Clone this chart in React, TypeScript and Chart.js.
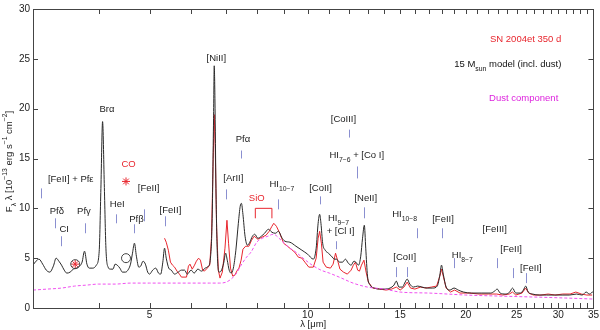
import React, { useEffect, useRef } from "react";
import { Chart, registerables } from "chart.js";

Chart.register(...registerables);

// ---- data (wavelength in micron, flux in 1e-13 erg s^-1 cm^-2) ----
const modelSpectrum: [number, number][] = [
  [3.00,4.3],[3.04,4.7],[3.08,4.9],[3.13,4.4],[3.18,3.8],[3.23,3.6],[3.28,4.2],[3.32,5.0],[3.36,4.7],[3.40,4.3],
  [3.44,3.8],[3.48,3.5],[3.53,3.6],[3.58,3.9],[3.63,4.0],[3.68,4.2],[3.72,4.6],[3.76,5.7],[3.80,4.4],[3.84,4.0],
  [3.90,4.0],[3.96,4.3],[4.01,5.7],[4.04,12.0],[4.07,18.7],[4.10,12.5],[4.13,6.0],[4.17,4.1],[4.21,3.9],[4.26,3.9],
  [4.30,4.4],[4.34,4.3],[4.39,4.0],[4.44,3.6],[4.50,3.6],[4.56,3.9],[4.60,4.4],[4.64,5.5],[4.68,6.5],[4.72,5.2],
  [4.77,4.1],[4.81,4.2],[4.86,4.7],[4.91,4.4],[4.96,3.6],[5.00,3.4],[5.07,3.8],[5.14,4.0],[5.20,3.5],[5.25,3.4],
  [5.30,4.6],[5.34,6.0],[5.38,5.0],[5.44,4.0],[5.50,3.8],[5.58,3.4],[5.67,3.6],[5.75,3.8],[5.83,3.8],[5.90,3.4],
  [6.00,3.8],[6.08,3.5],[6.18,3.9],[6.28,3.7],[6.38,4.0],[6.47,4.2],[6.53,5.0],[6.58,9.0],[6.62,19.0],[6.64,24.3],
  [6.66,21.0],[6.69,12.0],[6.73,5.5],[6.78,3.6],[6.84,3.7],[6.92,4.5],[6.98,5.5],[7.03,4.8],[7.09,3.8],[7.15,3.5],
  [7.22,4.0],[7.30,5.8],[7.38,8.5],[7.44,10.2],[7.48,10.5],[7.53,9.4],[7.60,7.2],[7.68,6.3],[7.76,6.6],[7.85,7.2],
  [7.93,7.4],[8.04,7.0],[8.16,7.2],[8.28,7.5],[8.42,7.9],[8.55,7.6],[8.68,7.5],[8.80,7.7],[8.92,7.1],[9.05,6.7],
  [9.25,6.6],[9.50,6.2],[9.75,5.8],[10.0,5.4],[10.25,4.9],[10.38,6.0],[10.47,8.5],[10.54,9.4],[10.60,8.5],[10.68,6.5],
  [10.80,5.8],[10.95,5.5],[11.10,5.2],[11.25,4.9],[11.35,4.9],[11.50,4.6],[11.65,4.6],[11.80,4.9],[11.95,4.5],[12.10,4.3],
  [12.25,4.7],[12.35,4.6],[12.50,4.3],[12.62,5.2],[12.72,7.0],[12.82,8.3],[12.90,6.0],[13.00,3.2],[13.15,2.3],[13.40,2.0],
  [13.70,1.9],[14.00,1.9],[14.35,2.0],[14.60,2.3],[14.75,2.7],[14.92,2.1],[15.15,2.1],[15.30,2.5],[15.47,2.9],[15.65,2.4],
  [15.90,2.1],[16.20,2.2],[16.50,2.1],[16.90,2.0],[17.30,2.0],[17.65,2.2],[17.85,3.3],[17.98,4.3],[18.12,3.4],[18.35,2.1],
  [18.65,1.8],[19.00,2.0],[19.35,1.8],[19.80,1.6],[20.50,1.5],[21.40,1.5],[22.30,1.5],[22.70,1.7],[22.95,1.9],[23.25,1.5],
  [23.80,1.4],[24.25,1.6],[24.55,2.0],[24.90,1.5],[25.40,1.5],[25.75,1.8],[26.00,2.2],[26.30,1.6],[26.80,1.4],[27.60,1.3],
  [28.50,1.3],[29.50,1.3],[30.50,1.3],[31.50,1.3],[32.50,1.4],[33.30,1.3],[33.90,1.6],[34.40,1.4],[35.0,1.7],
];

const observedSpectrum: [number, number][] = [
  [5.34,7.0],[5.38,6.6],[5.43,5.8],[5.48,4.6],[5.53,4.3],[5.58,4.1],[5.64,3.7],[5.70,3.4],[5.75,3.1],[5.88,3.1],
  [5.93,4.2],[5.97,4.4],[6.03,3.9],[6.09,4.3],[6.14,4.7],[6.20,5.0],[6.25,4.8],[6.31,3.8],[6.36,3.7],[6.44,4.0],
  [6.51,4.3],[6.56,7.0],[6.61,15.0],[6.64,19.4],[6.67,16.0],[6.71,8.0],[6.76,3.8],[6.81,3.0],[6.88,3.6],[6.96,6.0],
  [7.02,8.8],[7.07,6.5],[7.13,4.0],[7.20,3.2],[7.27,3.3],[7.33,3.7],[7.40,4.0],[7.47,4.8],[7.53,5.9],[7.62,6.2],
  [7.73,6.2],[7.82,6.8],[7.91,7.2],[8.04,6.9],[8.18,7.1],[8.33,7.3],[8.45,7.7],[8.55,8.2],[8.62,8.5],[8.72,8.2],
  [8.85,7.5],[9.00,6.5],[9.15,6.2],[9.30,5.9],[9.45,5.6],[9.60,5.1],[9.75,5.0],[9.88,4.6],[10.05,4.1],[10.25,4.1],
  [10.38,5.0],[10.47,7.0],[10.54,7.7],[10.62,6.5],[10.70,4.6],[10.85,4.1],[11.05,4.0],[11.18,4.4],[11.30,5.5],[11.40,4.8],
  [11.52,3.9],[11.70,3.6],[11.90,3.4],[12.10,3.8],[12.22,4.3],[12.33,4.6],[12.45,3.8],[12.55,3.7],[12.66,4.3],[12.80,4.8],
  [12.92,3.6],[13.05,2.6],[13.30,2.0],[13.70,1.9],[14.10,1.8],[14.45,1.9],[14.75,2.1],[15.00,1.8],[15.25,2.1],[15.47,2.6],
  [15.70,2.0],[16.00,1.9],[16.40,2.1],[16.80,2.0],[17.20,2.1],[17.60,2.2],[17.85,3.2],[17.98,3.9],[18.12,3.2],[18.35,2.0],
  [18.70,1.6],[19.05,1.8],[19.50,1.5],[20.30,1.5],[21.20,1.4],[22.10,1.4],[22.90,1.4],[23.50,1.3],[24.20,1.4],[24.55,1.6],
  [24.90,1.3],[25.60,1.5],[26.00,2.0],[26.35,1.5],[26.90,1.3],[27.80,1.3],[28.70,1.4],[29.60,1.3],[30.60,1.4],[31.60,1.4],
  [32.40,1.6],[33.20,1.4],[34.00,1.3],[34.80,1.3],
];

const dustSpectrum: [number, number][] = [
  [3.0,1.8],[3.2,1.9],[3.4,2.0],[3.6,2.2],[3.8,2.3],[4.0,2.4],[4.3,2.4],[4.6,2.5],[5.0,2.5],[5.5,2.5],
  [6.0,2.5],[6.5,2.5],[6.8,2.5],[7.0,2.6],[7.15,2.9],[7.3,3.4],[7.47,4.3],[7.65,5.1],[7.8,5.6],[8.0,6.6],
  [8.2,7.0],[8.4,7.2],[8.6,7.4],[8.9,6.8],[9.2,6.1],[9.5,5.6],[9.8,5.0],[10.2,4.3],[10.6,3.8],[11.0,3.5],
  [11.6,3.0],[12.2,2.5],[13.0,2.1],[14.0,1.9],[15.0,1.6],[17.0,1.5],[20.0,1.3],[23.0,1.2],[27.0,1.1],[31.0,1.0],
  [35.0,0.9],
];

const xTicks = [3,4,5,6,7,8,9,10,11,12,13,14,15,16,17,18,19,20,21,22,23,24,25,26,27,28,29,30,31,32,33,34,35];
const xLabels = [5, 10, 15, 20, 25, 30, 35];
const yTicks = [0, 5, 10, 15, 20, 25, 30];

// line identification marks: [wavelength, top, bottom]
const lineMarks: [number, number, number][] = [
  [3.11,12.0,11.0],[3.30,9.0,8.0],[3.39,7.2,6.2],[3.77,8.5,7.5],[4.31,9.4,8.5],[4.68,8.4,7.5],
  [4.89,9.9,8.7],[5.34,9.2,8.2],[7.00,11.9,10.9],[7.47,15.8,15.0],[8.78,10.9,9.9],[10.54,11.2,10.4],
  [11.30,6.7,5.9],[12.0,17.9,17.1],[12.4,14.2,13.0],[12.82,10.1,9.0],[16.16,8.0,7.0],[14.75,4.1,3.1],
  [15.47,4.1,3.1],[18.0,8.0,7.0],[19.0,5.0,4.0],[22.9,5.0,4.0],[24.56,4.0,3.0],[26.0,3.5,2.5],
];

// line labels: text, wavelength, flux, colour
const lineLabels: [string, number, number, string][] = [
  ["[FeII] + Pfε", 3.54, 12.9, "#222"],
  ["Pfδ", 3.33, 9.7, "#222"],
  ["CI", 3.44, 7.9, "#222"],
  ["Pfγ", 3.75, 9.7, "#222"],
  ["Brα", 4.15, 19.9, "#222"],
  ["HeI", 4.34, 10.4, "#222"],
  ["CO", 4.56, 14.4, "#e8262e"],
  ["[FeII]", 4.98, 12.0, "#222"],
  ["Pfβ", 4.72, 8.9, "#222"],
  ["[FeII]", 5.48, 9.8, "#222"],
  ["[NiII]", 6.70, 25.0, "#222"],
  ["[ArII]", 7.22, 13.0, "#222"],
  ["Pfα", 7.53, 16.9, "#222"],
  ["SiO", 8.0, 11.0, "#e8262e"],
  ["HI_{10−7}", 8.93, 12.4, "#222"],
  ["[CoII]", 10.58, 12.0, "#222"],
  ["HI_{9−7}", 11.45, 9.0, "#222"],
  ["+ [Cl I]", 11.55, 7.7, "#222"],
  ["[CoIII]", 11.7, 18.9, "#222"],
  ["HI_{7−6} + [Co I]", 12.4, 15.3, "#222"],
  ["[NeII]", 12.9, 11.0, "#222"],
  ["HI_{10−8}", 15.3, 9.4, "#222"],
  ["[CoII]", 15.3, 5.1, "#222"],
  ["[FeII]", 18.1, 8.9, "#222"],
  ["HI_{8−7}", 19.7, 5.3, "#222"],
  ["[FeIII]", 22.7, 7.9, "#222"],
  ["[FeII]", 24.4, 5.9, "#222"],
  ["[FeII]", 26.6, 4.0, "#222"],
];

// legend entries (right aligned): text, wavelength, flux, colour
const legendItems: [string, number, number, string][] = [
  ["SN 2004et 350 d", 30.4, 27.0, "#e8262e"],
  ["15 M_{sun} model (incl. dust)", 30.4, 24.4, "#111"],
  ["Dust component", 30.0, 21.0, "#dd22dd"],
];

// markers: asterisks and circles [wavelength, flux]
const asteriskMarks: [number, number][] = [[4.51, 12.7], [3.61, 4.4]];
const circleMarks: [number, number][] = [[4.51, 5.0], [3.61, 4.4]];
// SiO bracket: [left wl, right wl, top, bottom]
const sioBracket: [number, number, number, number] = [7.95, 8.55, 10.0, 9.0];

const FONT = "'Liberation Sans', Arial, Helvetica, sans-serif";

type Seg = { t: string; k: "n" | "sub" | "sup" };
function parseRich(s: string): Seg[] {
  const out: Seg[] = [];
  const re = /(_\{[^}]*\}|\^\{[^}]*\})/g;
  let last = 0;
  let m: RegExpExecArray | null;
  while ((m = re.exec(s))) {
    if (m.index > last) out.push({ t: s.slice(last, m.index), k: "n" });
    const tok = m[0];
    out.push({ t: tok.slice(2, -1), k: tok[0] === "_" ? "sub" : "sup" });
    last = m.index + tok.length;
  }
  if (last < s.length) out.push({ t: s.slice(last), k: "n" });
  return out;
}

function drawRich(ctx: CanvasRenderingContext2D, s: string, x: number, y: number, size: number, align: "left" | "center" | "right", color: string) {
  const segs = parseRich(s);
  const small = size * 0.72;
  const widths = segs.map((sg) => {
    ctx.font = `${sg.k === "n" ? size : small}px ${FONT}`;
    return ctx.measureText(sg.t).width;
  });
  const total = widths.reduce((a, b) => a + b, 0);
  let cx = align === "left" ? x : align === "center" ? x - total / 2 : x - total;
  ctx.fillStyle = color;
  ctx.textAlign = "left";
  ctx.textBaseline = "middle";
  segs.forEach((sg, i) => {
    ctx.font = `${sg.k === "n" ? size : small}px ${FONT}`;
    const dy = sg.k === "sub" ? size * 0.5 : sg.k === "sup" ? -size * 0.4 : 0;
    ctx.fillText(sg.t, cx, y + dy);
    cx += widths[i];
  });
}

const decorPlugin = {
  id: "decor",
  afterDraw(chart: any) {
    const { ctx, chartArea } = chart;
    const { left, right, top, bottom } = chartArea;
    const xs = chart.scales.x;
    const ys = chart.scales.y;
    ctx.save();
    // frame
    ctx.strokeStyle = "#444";
    ctx.lineWidth = 1;
    ctx.strokeRect(Math.round(left) + 0.5, Math.round(top) + 0.5, Math.round(right - left), Math.round(bottom - top));
    // inward ticks
    ctx.beginPath();
    for (const v of xTicks) {
      const px = Math.round(xs.getPixelForValue(v)) + 0.5;
      ctx.moveTo(px, bottom); ctx.lineTo(px, bottom - 5);
      ctx.moveTo(px, top); ctx.lineTo(px, top + 5);
    }
    for (const v of yTicks) {
      const py = Math.round(ys.getPixelForValue(v)) + 0.5;
      ctx.moveTo(left, py); ctx.lineTo(left + 5, py);
      ctx.moveTo(right, py); ctx.lineTo(right - 5, py);
    }
    ctx.stroke();

    // line marks
    ctx.strokeStyle = "#8a8fd0";
    ctx.beginPath();
    for (const [wl, a, b] of lineMarks) {
      const px = Math.round(xs.getPixelForValue(wl)) + 0.5;
      ctx.moveTo(px, ys.getPixelForValue(a));
      ctx.lineTo(px, ys.getPixelForValue(b));
    }
    ctx.stroke();

    // labels
    for (const [t, wl, f, c] of lineLabels) {
      drawRich(ctx, t, xs.getPixelForValue(wl), ys.getPixelForValue(f), 9.5, "center", c);
    }
    for (const [t, wl, f, c] of legendItems) {
      drawRich(ctx, t, xs.getPixelForValue(wl), ys.getPixelForValue(f), 9.5, "right", c);
    }

    // SiO bracket
    ctx.strokeStyle = "#e8262e";
    ctx.beginPath();
    const bl = xs.getPixelForValue(sioBracket[0]);
    const br = xs.getPixelForValue(sioBracket[1]);
    const bt = ys.getPixelForValue(sioBracket[2]);
    const bb = ys.getPixelForValue(sioBracket[3]);
    ctx.moveTo(bl, bb); ctx.lineTo(bl, bt); ctx.lineTo(br, bt); ctx.lineTo(br, bb);
    ctx.stroke();

    // asterisks
    ctx.strokeStyle = "#e8262e";
    ctx.beginPath();
    for (const [wl, f] of asteriskMarks) {
      const cx = xs.getPixelForValue(wl);
      const cy = ys.getPixelForValue(f);
      for (let k = 0; k < 4; k++) {
        const ang = (k * Math.PI) / 4;
        const dx = Math.cos(ang) * 4, dy = Math.sin(ang) * 4;
        ctx.moveTo(cx - dx, cy - dy); ctx.lineTo(cx + dx, cy + dy);
      }
    }
    ctx.stroke();
    // circles
    ctx.strokeStyle = "#444";
    for (const [wl, f] of circleMarks) {
      ctx.beginPath();
      ctx.arc(xs.getPixelForValue(wl), ys.getPixelForValue(f), 4.5, 0, Math.PI * 2);
      ctx.stroke();
    }

    // y-axis title
    ctx.translate(left - 24, (top + bottom) / 2 + 3);
    ctx.rotate(-Math.PI / 2);
    drawRich(ctx, "F_{λ} λ [10^{−13} erg s^{−1} cm^{−2}]", 0, 0, 9.5, "center", "#222");
    ctx.restore();
  },
};

const toPts = (arr: [number, number][]) => arr.map(([x, y]) => ({ x, y }));

export default function App() {
  const ref = useRef<HTMLCanvasElement | null>(null);
  useEffect(() => {
    if (!ref.current) return;
    const chart = new Chart(ref.current, {
      type: "line",
      data: {
        datasets: [
          {
            label: "Dust component",
            data: toPts(dustSpectrum),
            borderColor: "#f050f0",
            borderWidth: 1,
            borderDash: [3, 2],
            pointRadius: 0,
            cubicInterpolationMode: "monotone",
          },
          {
            label: "15 Msun model (incl. dust)",
            data: toPts(modelSpectrum),
            borderColor: "#2a2a2a",
            borderWidth: 1,
            pointRadius: 0,
            cubicInterpolationMode: "monotone",
          },
          {
            label: "SN 2004et 350 d",
            data: toPts(observedSpectrum),
            borderColor: "#e8262e",
            borderWidth: 1,
            pointRadius: 0,
            tension: 0,
          },
        ],
      },
      options: {
        animation: false,
        responsive: false,
        maintainAspectRatio: false,
        layout: { padding: { top: 5, right: 5, left: 0, bottom: 0 } },
        plugins: { legend: { display: false }, tooltip: { enabled: false } },
        scales: {
          x: {
            type: "logarithmic",
            min: 3,
            max: 35,
            afterBuildTicks: (s: any) => {
              s.ticks = xTicks.map((v) => ({ value: v }));
            },
            afterFit: (s: any) => {
              s.height = 22;
            },
            grid: { display: false, drawTicks: false },
            border: { display: false },
            ticks: {
              autoSkip: false,
              maxRotation: 0,
              padding: 1,
              color: "#222",
              font: { size: 10, family: FONT },
              callback: (v: any) => (xLabels.includes(Number(v)) ? String(v) : ""),
            },
            title: {
              display: true,
              text: "λ [μm]",
              padding: { top: 0, bottom: 0 },
              color: "#222",
              font: { size: 9.5, family: FONT },
            },
          },
          y: {
            min: 0,
            max: 30,
            afterBuildTicks: (s: any) => {
              s.ticks = yTicks.map((v) => ({ value: v }));
            },
            afterFit: (s: any) => {
              s.width = 33;
            },
            grid: { display: false, drawTicks: false },
            border: { display: false },
            ticks: {
              padding: 3,
              color: "#222",
              font: { size: 10, family: FONT },
            },
          },
        },
      },
      plugins: [decorPlugin],
    } as any);
    return () => chart.destroy();
  }, []);
  return (
    <div style={{ position: "fixed", left: 0, top: 0, width: 600, height: 330, background: "#fff" }}>
      <canvas ref={ref} width={600} height={330} style={{ width: 600, height: 330 }} />
    </div>
  );
}
